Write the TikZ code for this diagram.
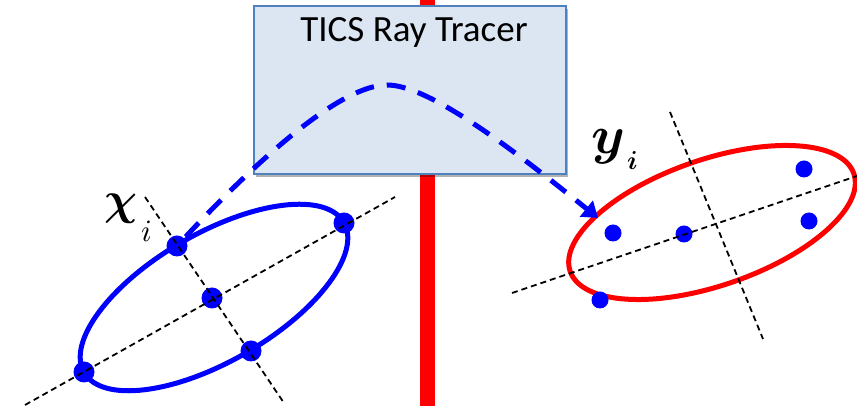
\documentclass[tikz,border=0pt]{standalone}
\usepackage{graphicx}
\usepackage{fontspec}
\setmainfont{Carlito}
\usetikzlibrary{arrows.meta,shadows}
\definecolor{boxfill}{HTML}{DCE6F2}
\definecolor{boxline}{HTML}{4F81BD}
\begin{document}
\begin{tikzpicture}[x=1pt,y=1pt,
  axisline/.style={black, line width=1.8pt, dash pattern=on 6pt off 4pt},
  bdot/.style={circle, fill=blue, inner sep=0pt, minimum size=21pt},
  rdot/.style={circle, fill=blue, inner sep=0pt, minimum size=17pt},
  ray/.style={blue, line width=5pt, dash pattern=on 19pt off 13pt, -{Triangle[length=15pt,width=20pt]}},
  ell/.style={line width=5pt}
]
\useasboundingbox (0,0) rectangle (857,406);
% red bar
\fill[red] (420,0) rectangle (435,406);
% box
\node[draw=boxline, fill=boxfill, line width=1.5pt, minimum width=312pt, minimum height=168pt,
      inner sep=0pt, anchor=south west,
      drop shadow={shadow xshift=2pt, shadow yshift=-3pt, opacity=0.3, fill=black}] (box) at (253,231) {};
\node[anchor=base, font=\fontsize{37}{40}\selectfont] (title) at (414,364) {TICS Ray Tracer};

% left ellipse
\draw[blue, ell, rotate around={30:(214,108.5)}] (214,108.5) ellipse [x radius=150pt, y radius=64pt];
\node[bdot] (l1) at (177,160) {};
\node[bdot] (l2) at (344,183) {};
\node[bdot] (l3) at (212,108) {};
\node[bdot] (l4) at (251,55) {};
\node[bdot] (l5) at (84,34) {};
\coordinate (lma) at (25,1);
\coordinate (lmb) at (395,209);
\coordinate (lna) at (145,209);
\coordinate (lnb) at (284,3);
\draw[axisline] (lma) -- (lmb);
\draw[axisline] (lna) -- (lnb);

% right ellipse
\draw[red, ell, rotate around={19:(712,183.5)}] (712,183.5) ellipse [x radius=150pt, y radius=63pt];
\node[rdot] (r1) at (613,173) {};
\node[rdot] (r2) at (684,172) {};
\node[rdot] (r3) at (804,237) {};
\node[rdot] (r4) at (809,185) {};
\node[rdot] (r5) at (600,106) {};
\coordinate (rma) at (512,113);
\coordinate (rmb) at (857,230);
\coordinate (rna) at (670,294);
\coordinate (rnb) at (763,67);
\draw[axisline] (rma) -- (rmb);
\draw[axisline] (rna) -- (rnb);

% labels
\node[anchor=base west, inner sep=0pt] (chi) at (104,191)
  {\scalebox{4.6}{\boldmath$\chi$}\hspace{4pt}\raisebox{-27pt}{\scalebox{3.1}{$i$}}};
\node[anchor=base west, inner sep=0pt] (ylab) at (591,252)
  {\scalebox{5.4}{\boldmath$y$}\hspace{2pt}\raisebox{-16pt}{\scalebox{2.6}{\boldmath$i$}}};

% ray
\coordinate (peak) at (387,321);
\coordinate (tip) at (598,188);
\draw[ray, shorten <=2pt] (l1) .. controls (262,251) and (342,321) .. (peak)
   .. controls (427,321) and (504,264) .. (tip);
\end{tikzpicture}
\end{document}
